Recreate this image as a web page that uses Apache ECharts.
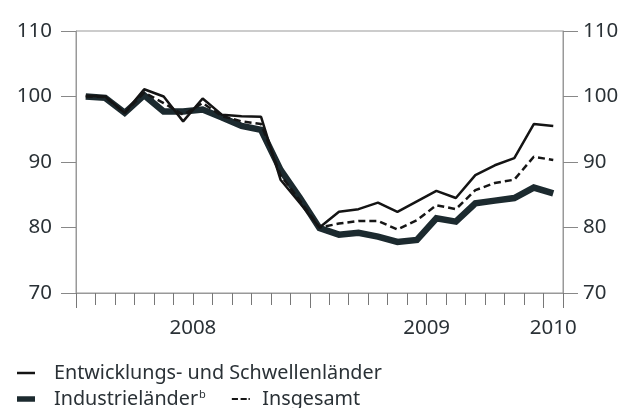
<!DOCTYPE html>
<html>
<head>
<meta charset="utf-8">
<script src="https://cdn.jsdelivr.net/npm/echarts@6/dist/echarts.min.js"></script>
<style>
  html, body { margin: 0; padding: 0; background: #fff; }
  #chart { width: 625px; height: 408px; }
</style>
</head>
<body>
<div id="chart"></div>
<script>
// Monatswerte Jan 2008 – Jan 2010
const months = [
  "Jan 08", "Feb 08", "Mär 08", "Apr 08", "Mai 08", "Jun 08",
  "Jul 08", "Aug 08", "Sep 08", "Okt 08", "Nov 08", "Dez 08",
  "Jan 09", "Feb 09", "Mär 09", "Apr 09", "Mai 09", "Jun 09",
  "Jul 09", "Aug 09", "Sep 09", "Okt 09", "Nov 09", "Dez 09",
  "Jan 10"
];
const yearLabels = ["2008", "2009", "2010"];
const yearCenters = [6, 18, 24.5];   // Mitte der Jahresabschnitte (in Monaten)
const yearBounds = [0, 12, 24, 25];  // lange Striche

const entwicklung = [100.1, 100.0, 97.5, 101.1, 100.0, 96.2, 99.7, 97.2, 97.0, 96.9, 87.3, 83.7,
  80.0, 82.4, 82.8, 83.8, 82.4, 84.0, 85.6, 84.5, 88.0, 89.5, 90.6, 95.8, 95.5];
const industrie = [100.0, 99.8, 97.5, 100.2, 97.7, 97.7, 98.0, 96.8, 95.5, 94.9, 88.8, 84.5,
  79.9, 78.9, 79.2, 78.6, 77.8, 78.1, 81.4, 80.9, 83.7, 84.1, 84.5, 86.1, 85.2];
const insgesamt = [100.0, 99.9, 97.5, 100.6, 99.0, 97.2, 99.0, 97.0, 96.2, 95.8, 88.0, 84.1,
  80.0, 80.6, 81.0, 81.0, 79.7, 81.1, 83.4, 82.8, 85.7, 86.8, 87.3, 90.8, 90.3];

const yTicks = [70, 80, 90, 100, 110];

const textColor = "#2a3136";
const axisGray = "#999";
const fontFamily = "'Noto Sans', sans-serif";

// Legendensymbole
const iconThin = "path://M0,0H18V2.5H0Z";
const iconThick = "path://M0,0H18V5.5H0Z";
const iconDash = "path://M0,0H7V2.5H0Z M10,0H17V2.5H10Z M19,0H20.5V2.5H19Z";

const chart = echarts.init(document.getElementById("chart"));

const yAxisBase = {
  type: "value",
  min: yTicks[0],
  max: yTicks[yTicks.length - 1],
  interval: 10,
  axisLine: { show: true, lineStyle: { color: axisGray, width: 1 } },
  axisTick: { show: true, length: 15, lineStyle: { color: "#888" } },
  splitLine: { show: false },
};

chart.setOption({
  animation: false,
  textStyle: { fontFamily: fontFamily, color: textColor },
  grid: {
    left: 76,
    right: 62,
    top: 31,
    bottom: 115,
    show: true,
    borderColor: axisGray,
    borderWidth: 1,
  },
  xAxis: [
    {
      type: "category",
      data: months,
      boundaryGap: true,
      axisLine: { show: true, lineStyle: { color: axisGray } },
      axisTick: { show: true, interval: 0, length: 12, lineStyle: { color: "#777" } },
      axisLabel: { show: false },
    },
    {
      type: "value",
      min: 0,
      max: 25,
      position: "bottom",
      axisLine: { show: false },
      axisTick: { show: true, length: 15, customValues: yearBounds, lineStyle: { color: "#777" } },
      splitLine: { show: false },
      axisLabel: {
        show: true,
        customValues: yearCenters,
        margin: 25,
        fontSize: 20.5,
        color: textColor,
        formatter: (v) => yearLabels[yearCenters.indexOf(v)],
      },
    },
  ],
  yAxis: [
    Object.assign({}, yAxisBase, {
      position: "left",
      axisLabel: { margin: 24, fontSize: 20.5, color: textColor },
    }),
    Object.assign({}, yAxisBase, {
      position: "right",
      axisLabel: { margin: 20, fontSize: 20.5, color: textColor },
    }),
  ],
  legend: [
    {
      data: [{ name: "Entwicklungs- und Schwellenländer", icon: iconThin }],
      left: 12,
      top: 358,
      itemWidth: 18,
      itemHeight: 14,
      textStyle: { fontSize: 19.75, color: textColor, padding: [0, 0, 0, 14] },
    },
    {
      data: [
        { name: "Industrieländer", icon: iconThick },
        { name: "Insgesamt", icon: iconDash, textStyle: { padding: [0, 0, 0, 7.5] } },
      ],
      left: 12,
      top: 384,
      itemWidth: 18,
      itemHeight: 14,
      itemGap: 26,
      formatter: (name) => (name === "Industrieländer" ? "{n|Industrieländer}{s|b}" : name),
      textStyle: {
        fontSize: 19.75,
        color: textColor,
        padding: [0, 0, 0, 14],
        rich: {
          n: { fontSize: 19.75, color: textColor },
          s: { fontSize: 11, color: textColor, padding: [0, 0, 8, 1] },
        },
      },
    },
  ],
  series: [
    {
      name: "Industrieländer",
      type: "line",
      data: industrie,
      symbol: "none",
      z: 2,
      lineStyle: { color: "#1c2a2f", width: 6.5, join: "miter" },
      itemStyle: { color: "#1c2a2f" },
    },
    {
      name: "Insgesamt",
      type: "line",
      data: insgesamt,
      symbol: "none",
      z: 3,
      lineStyle: { color: "#161616", width: 2.5, type: [7, 4] },
      itemStyle: { color: "#161616" },
    },
    {
      name: "Entwicklungs- und Schwellenländer",
      type: "line",
      data: entwicklung,
      symbol: "none",
      z: 4,
      lineStyle: { color: "#141414", width: 2.5 },
      itemStyle: { color: "#141414" },
    },
  ],
});
</script>
</body>
</html>
